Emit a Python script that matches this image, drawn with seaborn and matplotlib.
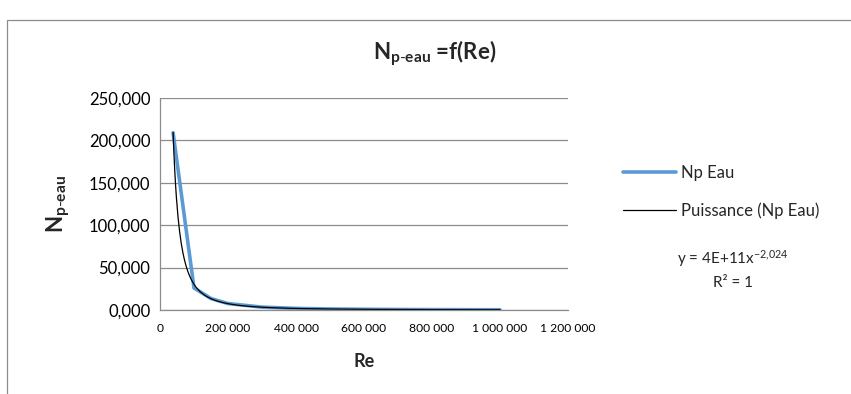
import numpy as np
import pandas as pd
import matplotlib
matplotlib.use("Agg")
import matplotlib.pyplot as plt
import seaborn as sns
from matplotlib.patches import Rectangle

# ---- data ----
re_values = [38500, 100000, 150000, 200000, 300000, 400000, 500000,
             600000, 700000, 800000, 900000, 1000000]
np_eau = [209.0, 26.0, 13.5, 7.6, 3.4, 1.9, 1.2, 0.85, 0.6, 0.47, 0.37, 0.3]
trend_a = 4e11        # from the trendline label
trend_b = -2.024
x_ticks = [0, 200000, 400000, 600000, 800000, 1000000, 1200000]
x_tick_labels = ["0", "200 000", "400 000", "600 000", "800 000", "1 000 000", "1 200 000"]
y_ticks = [0, 50, 100, 150, 200, 250]
y_tick_labels = ["0,000", "50,000", "100,000", "150,000", "200,000", "250,000"]

sns.set_theme(style="white")
plt.rcParams['font.family'] = ['Lato', 'DejaVu Sans']
plt.rcParams['mathtext.fontset'] = 'custom'
plt.rcParams['mathtext.rm'] = 'Lato'
plt.rcParams['mathtext.bf'] = 'Lato:bold'
plt.rcParams['mathtext.it'] = 'Lato:italic'

fig = plt.figure(figsize=(8.51, 3.94), dpi=100)
ax = fig.add_axes([160/851, 1-310/394, (568-160)/851, (310-98)/394])

df = pd.DataFrame({"Re": re_values, "Np": np_eau})
trend_x = np.linspace(min(re_values), max(re_values), 400)
trend_df = pd.DataFrame({"Re": trend_x, "Np": trend_a * trend_x ** trend_b})

sns.lineplot(data=df, x="Re", y="Np", ax=ax, color="#5B9BD5", linewidth=2.6,
             sort=False, label="Np Eau", solid_capstyle="round")
sns.lineplot(data=trend_df, x="Re", y="Np", ax=ax, color="black", linewidth=0.9,
             label="Puissance (Np Eau)")

ax.set_xlim(0, 1200000)
ax.set_ylim(0, 250)
ax.set_xticks(x_ticks)
ax.set_yticks(y_ticks)
ax.set_xticklabels(x_tick_labels, fontsize=8.7)
ax.set_yticklabels(y_tick_labels, fontsize=12)

ax.grid(axis="y", color="#8c8c8c", linewidth=0.9)
ax.set_axisbelow(True)
for s in ["top", "right"]:
    ax.spines[s].set_visible(False)
for s in ["left", "bottom"]:
    ax.spines[s].set_color("#8c8c8c")
    ax.spines[s].set_linewidth(0.9)
ax.tick_params(axis="y", length=4, width=0.9, pad=3, colors="#8c8c8c", labelcolor="black")
ax.tick_params(axis="x", length=0, pad=9, labelcolor="black")

ax.set_xlabel("Re", fontsize=13, fontweight="bold", labelpad=14)
ax.set_ylabel(r"$\mathbf{N_{p\text{-}eau}}$", fontsize=16, labelpad=12)

fig.text(435/851, 1-53/394, r"$\mathbf{N_{p\text{-}eau}}$ =f(Re)", fontsize=16,
         fontweight="bold", ha="center", va="center")

leg = ax.legend(loc="upper left", bbox_to_anchor=(608/851, 1-150/394),
                bbox_transform=fig.transFigure, frameon=False, fontsize=12,
                handlelength=3.2, handletextpad=0.3, labelspacing=1.3)

fig.text(733/851, 1-259/394, r"y = 4E+11x$^{\mathrm{-2{,}024}}$", fontsize=11,
         ha="center", va="center")
fig.text(733/851, 1-283/394, "R² = 1", fontsize=11, ha="center", va="center")

fig.add_artist(Rectangle((7/851, -0.1), 1.2, (1-20/394) + 0.1, transform=fig.transFigure,
                         fill=False, edgecolor="#8c8c8c", linewidth=0.9))

fig.savefig("out.png", dpi=100)
